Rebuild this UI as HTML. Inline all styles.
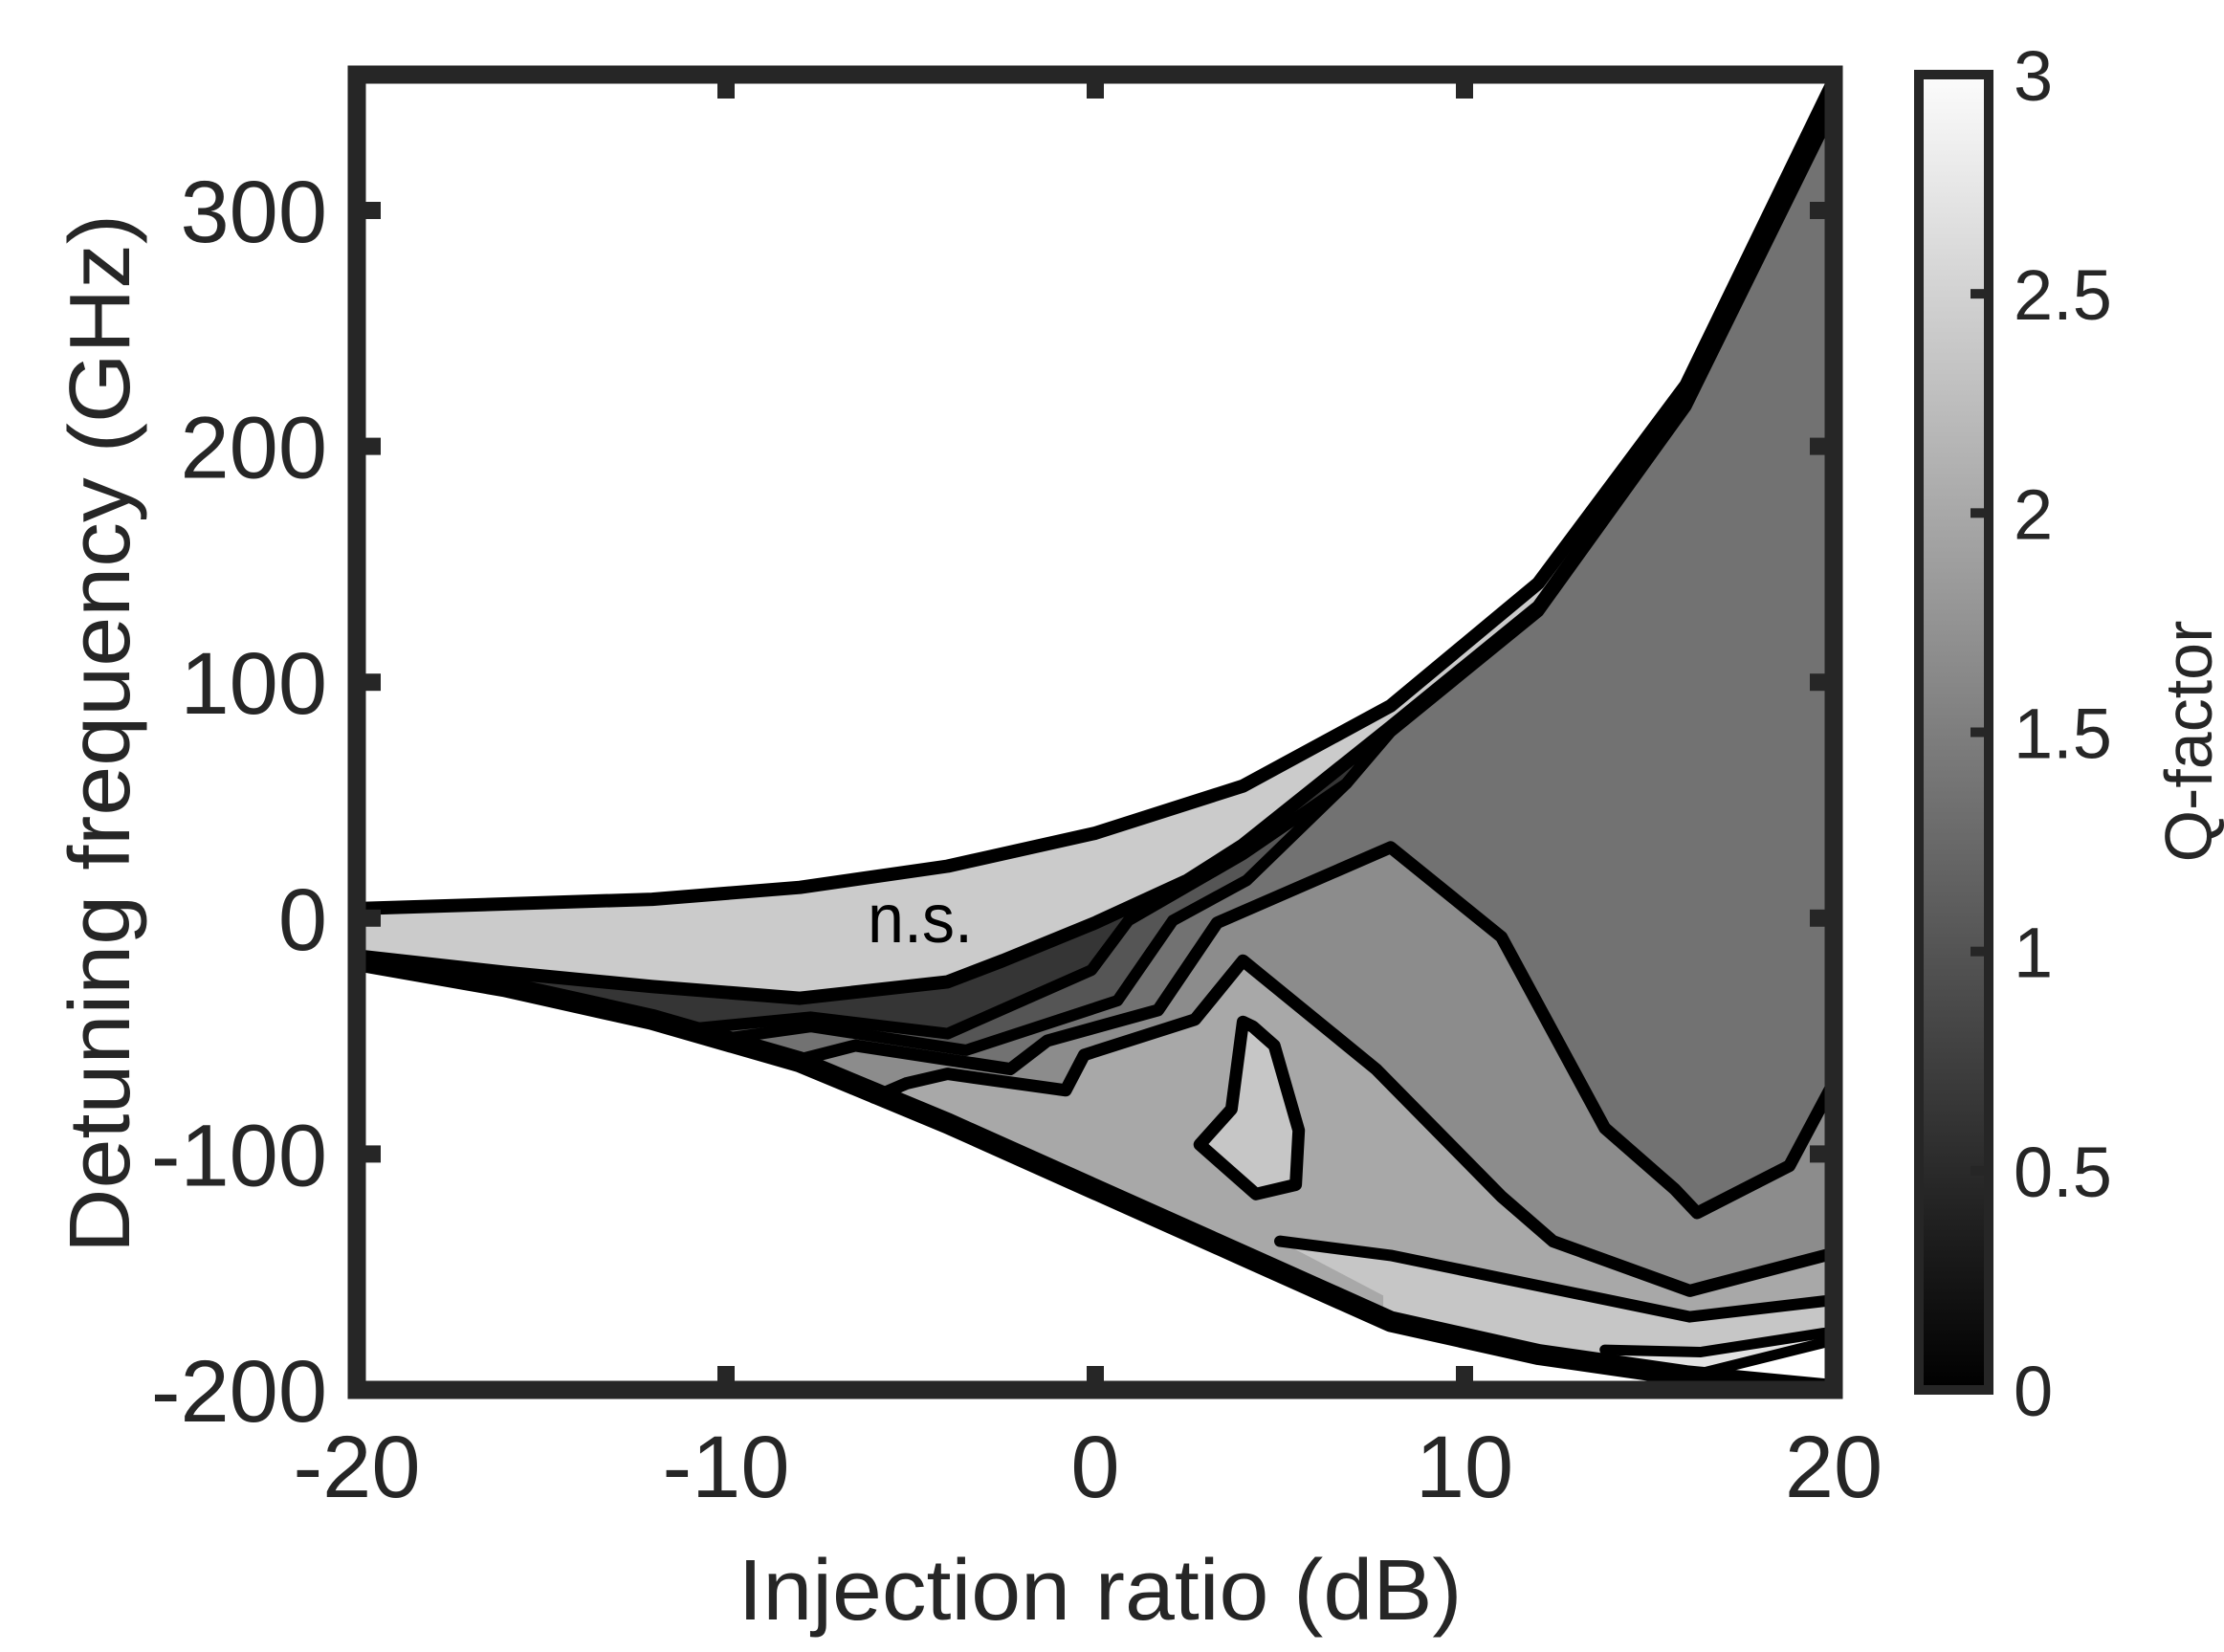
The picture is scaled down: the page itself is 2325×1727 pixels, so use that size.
<!DOCTYPE html>
<html><head><meta charset="utf-8"><style>
html,body{margin:0;padding:0;background:#fff;}
svg{display:block;font-family:"Liberation Sans",Arial,sans-serif;}
</style></head><body>
<svg id="chart" width="2325" height="1727" viewBox="0 0 2325 1727" xmlns="http://www.w3.org/2000/svg">
<defs>
<clipPath id="plotclip"><rect x="373" y="78" width="1544" height="1375"/></clipPath>
<linearGradient id="cbgrad" x1="0" y1="1" x2="0" y2="0"><stop offset="0" stop-color="#000"/><stop offset="1" stop-color="#fcfcfc"/></linearGradient>
</defs>
<g id="plot" clip-path="url(#plotclip)"></g>
<g id="axes"></g>
<text x="907" y="985" font-size="72" textLength="110" lengthAdjust="spacingAndGlyphs" fill="#000">n.s.</text>
<text x="1150" y="1693" font-size="90" text-anchor="middle" fill="#262626" textLength="757" lengthAdjust="spacingAndGlyphs">Injection ratio (dB)</text>
<text transform="translate(135,767) rotate(-90)" font-size="90" text-anchor="middle" fill="#262626" textLength="1086" lengthAdjust="spacingAndGlyphs">Detuning frequency (GHz)</text>
<text transform="translate(2312,775) rotate(-90)" font-size="70" text-anchor="middle" fill="#262626">Q-factor</text>
</svg>
<script>
// ---- data (Injection ratio dB, Detuning GHz) ----
const xTicks = [-20, -10, 0, 10, 20];
const yTicks = [-200, -100, 0, 100, 200, 300];
const cbTicks = [0, 0.5, 1, 1.5, 2, 2.5, 3];
const cbTickLabels = ["0", "0.5", "1", "1.5", "2", "2.5", "3"];
const topX = [-20, -12, -8, -4, 0, 4, 8, 12, 16, 20];
const topY = [4, 8, 13, 22, 36, 56, 90, 142, 226, 355];
const bottomX = [-20, -16, -12, -8, -4, 0, 4, 8, 12, 16, 20];
const bottomY = [-18, -29, -43, -61, -87, -115, -143, -171, -185, -194, -200];
const nsEdgeX = [-20, -16, -12, -8, -4, -2.5, 0, 2.5, 4, 6, 8, 12, 16, 20];
const nsEdgeY = [-16, -23, -29, -34, -27, -18, -2, 16, 31, 56, 81, 132, 219, 346];
const lineAX = [-11, -7.7, -4, -0.1, 0.9, 4, 6.8, 8, 12, 16, 20];
const lineAY = [-47, -42, -49, -22, -1, 27, 57, 80, 131, 218, 345];
const lineBX = [-10, -7.7, -3.5, 0.6, 2.1, 4.1, 6.8, 8, 12, 16, 20];
const lineBY = [-51, -46, -56, -35, -1, 16, 57, 79, 130, 217, 344];
const lineCX = [-8, -6.5, -2.3, -1.3, 1.7, 3.3, 8, 11, 13.8, 15.7, 16.3, 18.8, 20.5];
const lineCY = [-60, -54, -64, -52, -39, -2, 30, -8, -89, -115, -125, -105, -55];
const lineDX = [-6, -5.1, -4, -0.8, -0.3, 2.7, 4, 7.6, 11, 12.4, 16.1, 20.5];
const lineDY = [-76, -70, -66, -73, -58, -43, -18, -64, -118, -137, -158, -140];
const lineEX = [5, 8, 16.1, 20.5];
const lineEY = [-137, -143, -169, -161];
const lineFX = [13.8, 16.4, 20.5];
const lineFY = [-183, -184, -174];
const lineGX = [15.5, 16.4, 20.5];
const lineGY = [-198, -193, -177];
const islandX = [4.0, 4.27, 4.85, 5.51, 5.43, 4.35, 2.83, 3.69];
const islandY = [-44, -46, -54, -90, -113, -117, -96, -81];

const X0 = 373, X1 = 1917, Y0 = 1453, Y1 = 78;
const xMin = -20, xMax = 20, yMin = -200, yMax = 200 + (1453 - 78) / 2.466 - 400;
function sx(v) { return X0 + (v - xMin) / (xMax - xMin) * (X1 - X0); }
function sy(v) { return Y0 - (v - yMin) / (yMax - yMin) * (Y0 - Y1); }
const cbTop = 78, cbBot = 1453;
function sc(v) { return cbBot - v / 3 * (cbBot - cbTop); }

const NS = "http://www.w3.org/2000/svg";
const plot = document.getElementById('plot');
const axes = document.getElementById('axes');
function pts(xs, ys) { return xs.map((x, i) => sx(x).toFixed(1) + ',' + sy(ys[i]).toFixed(1)); }
function poly(parent, p, fill, name) {
  const el = document.createElementNS(NS, 'polygon');
  el.setAttribute('points', p.join(' '));
  el.setAttribute('fill', fill);
  
  
  parent.appendChild(el);
  return el;
}
function line(parent, xs, ys, w, name, closed) {
  const el = document.createElementNS(NS, closed ? 'polygon' : 'polyline');
  el.setAttribute('points', pts(xs, ys).join(' '));
  el.setAttribute('fill', 'none');
  el.setAttribute('stroke', '#000');
  el.setAttribute('stroke-width', w);
  el.setAttribute('stroke-linejoin', 'round');
  el.setAttribute('stroke-linecap', 'round');
  
  
  parent.appendChild(el);
}
function below(xs, ys) {
  const p = pts(xs, ys);
  p.push(sx(xs[xs.length - 1]).toFixed(1) + ',' + sy(-260).toFixed(1));
  p.push(sx(xs[0]).toFixed(1) + ',' + sy(-260).toFixed(1));
  return p;
}

// fills
const band = pts(topX, topY).concat(pts(bottomX.slice().reverse(), bottomY.slice().reverse()));
poly(plot, band, '#cbcbcb', 'ns-region');
poly(plot, below(nsEdgeX, nsEdgeY), '#353535', 'level-0.6-region');
poly(plot, below(lineAX, lineAY), '#555555', 'level-0.9-region');
poly(plot, below(lineBX, lineBY), '#727272', 'level-1.2-region');
poly(plot, below(lineCX, lineCY), '#8c8c8c', 'level-1.5-region');
poly(plot, below(lineDX, lineDY), '#a8a8a8', 'level-1.8-region');
poly(plot, pts(islandX, islandY), '#c6c6c6', 'island-region');
const eReg = pts(lineEX, lineEY);
eReg.push(sx(20.5) + ',' + sy(-260));
eReg.push(sx(7.8) + ',' + sy(-260));
eReg.push(sx(7.8) + ',' + sy(-160));
poly(plot, eReg, '#c6c6c6', 'level-2.2-region');
poly(plot, below(lineFX, lineFY), '#e2e2e2', 'level-2.6-region');
poly(plot, below(lineGX, lineGY), '#ffffff', 'level-3-region');
// white outside
poly(plot, below(bottomX, bottomY), '#ffffff', 'no-data-below');
const above = pts(topX, topY);
above.push(sx(20.5) + ',' + sy(400));
above.push(sx(-20.5) + ',' + sy(400));
poly(plot, above, '#ffffff', 'no-data-above');

// contour lines
line(plot, lineAX, lineAY, 12, 'contour-a');
line(plot, lineBX, lineBY, 12, 'contour-b');
line(plot, lineCX, lineCY, 13, 'contour-c');
line(plot, lineDX, lineDY, 13, 'contour-d');
line(plot, lineEX, lineEY, 12, 'contour-e');
line(plot, lineFX, lineFY, 11, 'contour-f');
line(plot, lineGX, lineGY, 11, 'contour-g');
line(plot, islandX, islandY, 13, 'contour-island', true);
line(plot, nsEdgeX, nsEdgeY, 14, 'contour-ns-edge');
line(plot, topX, topY, 14, 'contour-top');
line(plot, bottomX, bottomY, 22, 'contour-bottom');

// axes frame
function rect(parent, x, y, w, h, fill, stroke, sw, name) {
  const el = document.createElementNS(NS, 'rect');
  el.setAttribute('x', x); el.setAttribute('y', y);
  el.setAttribute('width', w); el.setAttribute('height', h);
  el.setAttribute('fill', fill);
  if (stroke) { el.setAttribute('stroke', stroke); el.setAttribute('stroke-width', sw); }
  
  
  parent.appendChild(el);
}
function text(parent, x, y, s, size, anchor, name) {
  const el = document.createElementNS(NS, 'text');
  el.setAttribute('x', x); el.setAttribute('y', y);
  el.setAttribute('font-size', size);
  el.setAttribute('text-anchor', anchor);
  el.setAttribute('fill', '#262626');
  el.textContent = s;
  
  
  parent.appendChild(el);
}
rect(axes, X0, Y1, X1 - X0, Y0 - Y1, 'none', '#262626', 19, 'plot-frame');
xTicks.forEach(v => {
  const x = sx(v);
  rect(axes, x - 9, Y0 - 25, 18, 25, '#262626', null, 0, 'x-tick-bottom');
  rect(axes, Y1 === 78 ? x - 9 : x, Y1, 18, 25, '#262626', null, 0, 'x-tick-top');
  text(axes, x, 1565, String(v).replace('-', '-'), 92, 'middle', 'x-tick-label');
});
yTicks.forEach(v => {
  const y = sy(v);
  rect(axes, X0, y - 9, 25, 18, '#262626', null, 0, 'y-tick-left');
  rect(axes, X1 - 25, y - 9, 25, 18, '#262626', null, 0, 'y-tick-right');
  text(axes, 342, y + 33, String(v), 92, 'end', 'y-tick-label');
});
// colorbar
rect(axes, 2006, cbTop, 73, cbBot - cbTop, 'url(#cbgrad)', '#262626', 10, 'colorbar');
cbTicks.forEach((v, i) => {
  const y = sc(v);
  rect(axes, 2060, y - 5, 15, 10, '#262626', null, 0, 'colorbar-tick');
  text(axes, 2105, y + 27, cbTickLabels[i], 74, 'start', 'colorbar-tick-label');
});
</script>
</body></html>
